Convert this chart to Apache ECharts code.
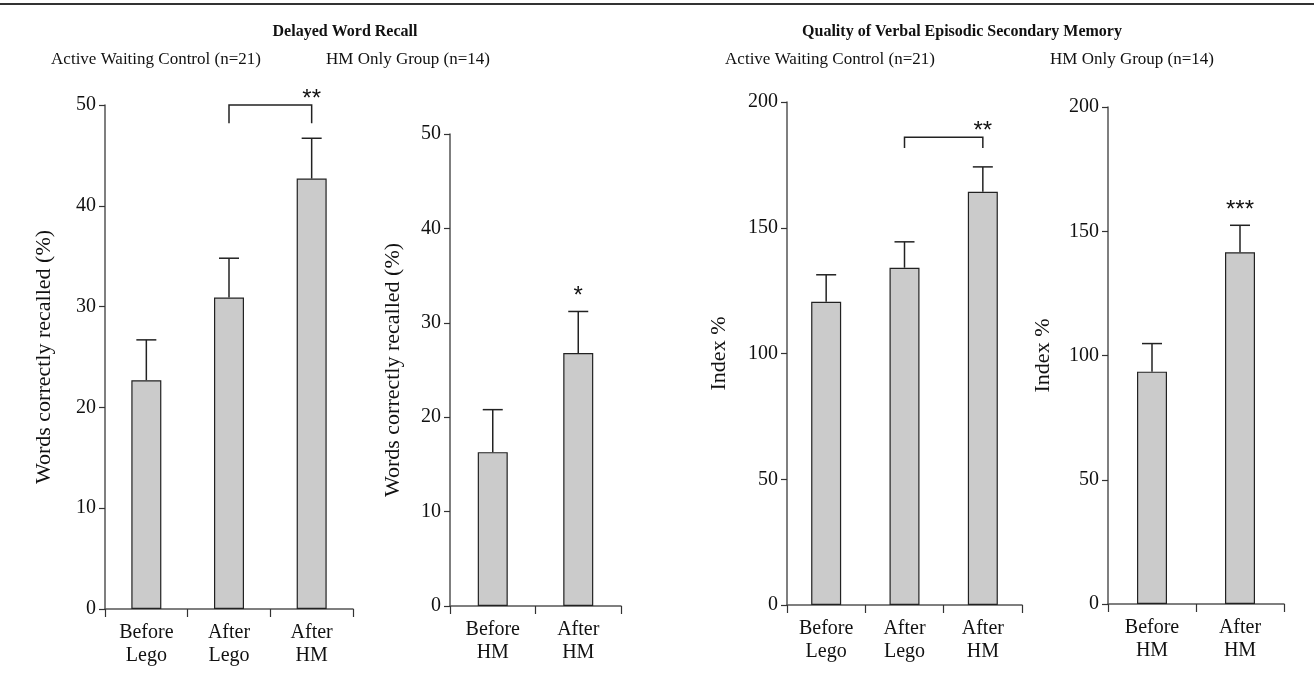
<!DOCTYPE html>
<html>
<head>
<meta charset="utf-8">
<title>Delayed Word Recall / Quality of Verbal Episodic Secondary Memory</title>
<script src="https://cdn.jsdelivr.net/npm/echarts@6/dist/echarts.min.js"></script>
<style>
  html, body { margin: 0; padding: 0; background: #fff; }
  #main { width: 1314px; height: 692px; }
</style>
</head>
<body>
<div id="main"></div>
<script>
// data
var catsThree = ['Before\nLego', 'After\nLego', 'After\nHM'];
var catsTwo = ['Before\nHM', 'After\nHM'];

var wordMeanCtrl = [22.7, 30.9, 42.7];
var wordUpperCtrl = [26.7, 34.8, 46.7];
var wordMeanHM = [16.3, 26.8];
var wordUpperHM = [20.8, 31.2];

var indexMeanCtrl = [120.6, 134.1, 164.3];
var indexUpperCtrl = [131.3, 144.4, 174.2];
var indexMeanHM = [93.5, 141.5];
var indexUpperHM = [104.8, 152.4];

var wordSigCtrl = ['', '', '**'];
var wordSigHM = ['', '*'];
var indexSigCtrl = ['', '', '**'];
var indexSigHM = ['', '***'];

// brackets: [from, to, top, drop]
var wordBracketCtrl = [1, 2, 50, 48.2];
var indexBracketCtrl = [1, 2, 186, 181.7];

var serif = '"Liberation Serif", "DejaVu Serif", serif';
var starFont = '24px "Liberation Sans", sans-serif';
var ink = '#111';

var panels = [
  { cats: catsThree, mean: wordMeanCtrl, upper: wordUpperCtrl, sig: wordSigCtrl, bracket: wordBracketCtrl,
    max: 50, interval: 10, name: 'Words correctly recalled (%)', gap: 50,
    grid: { left: 105, top: 105, width: 248, height: 504 } },
  { cats: catsTwo, mean: wordMeanHM, upper: wordUpperHM, sig: wordSigHM, bracket: null,
    max: 50, interval: 10, name: 'Words correctly recalled (%)', gap: 46,
    grid: { left: 450, top: 134, width: 171, height: 472 } },
  { cats: catsThree, mean: indexMeanCtrl, upper: indexUpperCtrl, sig: indexSigCtrl, bracket: indexBracketCtrl,
    max: 200, interval: 50, name: 'Index %', gap: 57,
    grid: { left: 787, top: 102, width: 235, height: 503 } },
  { cats: catsTwo, mean: indexMeanHM, upper: indexUpperHM, sig: indexSigHM, bracket: null,
    max: 200, interval: 50, name: 'Index %', gap: 54,
    grid: { left: 1108, top: 107, width: 176, height: 497 } }
];

var grids = [], xAxes = [], yAxes = [], series = [];

panels.forEach(function (p, i) {
  grids.push(p.grid);
  xAxes.push({
    type: 'category', gridIndex: i, data: p.cats,
    axisLine: { lineStyle: { color: '#555', width: 1.5 } },
    axisTick: { show: true, length: 8, lineStyle: { color: '#333', width: 1.2 } },
    axisLabel: { color: ink, fontFamily: serif, fontSize: 20, lineHeight: 23, margin: 12 }
  });
  yAxes.push({
    type: 'value', gridIndex: i, min: 0, max: p.max, interval: p.interval,
    splitLine: { show: false },
    axisLine: { show: true, lineStyle: { color: '#555', width: 1.5 } },
    axisTick: { show: true, length: 6, lineStyle: { color: '#333', width: 1.2 } },
    axisLabel: { color: ink, fontFamily: serif, fontSize: 20, margin: 9 },
    name: p.name, nameLocation: 'middle', nameRotate: 90, nameGap: p.gap,
    nameTextStyle: { color: ink, fontFamily: serif, fontSize: 22 }
  });

  series.push({
    type: 'bar', xAxisIndex: i, yAxisIndex: i, data: p.mean, barWidth: 30,
    itemStyle: { color: '#cbcbcb', borderColor: '#222', borderWidth: 1.2 },
    silent: true
  });

  // error bars + stars
  var errData = p.mean.map(function (m, k) { return [k, m, p.upper[k], p.sig[k]]; });
  series.push({
    type: 'custom', xAxisIndex: i, yAxisIndex: i, data: errData, silent: true, z: 5,
    renderItem: function (params, api) {
      var lo = api.coord([api.value(0), api.value(1)]);
      var hi = api.coord([api.value(0), api.value(2)]);
      var children = [
        { type: 'line', shape: { x1: lo[0], y1: lo[1], x2: hi[0], y2: hi[1] }, style: { stroke: '#222', lineWidth: 1.5 } },
        { type: 'line', shape: { x1: hi[0] - 10, y1: hi[1], x2: hi[0] + 10, y2: hi[1] }, style: { stroke: '#222', lineWidth: 1.5 } }
      ];
      var s = errData[params.dataIndex][3];
      if (s && !p.bracket) {
        children.push({ type: 'text', x: hi[0], y: hi[1] - 27,
          style: { text: s, fill: ink, font: starFont, align: 'center', verticalAlign: 'top' } });
      }
      return { type: 'group', children: children };
    }
  });

  if (p.bracket) {
    var b = p.bracket;
    var sigText = p.sig[b[1]];
    series.push({
      type: 'custom', xAxisIndex: i, yAxisIndex: i, data: [b], silent: true, z: 5,
      renderItem: function (params, api) {
        var a = api.coord([api.value(0), api.value(2)]);
        var c = api.coord([api.value(1), api.value(2)]);
        var d = api.coord([api.value(1), api.value(3)]);
        var dy = d[1];
        return { type: 'group', children: [
          { type: 'polyline', shape: { points: [[a[0], dy], [a[0], a[1]], [c[0], c[1]], [c[0], dy]] },
            style: { stroke: '#222', lineWidth: 1.5, fill: null } },
          { type: 'text', x: c[0], y: c[1] - 18,
            style: { text: sigText, fill: ink, font: starFont, align: 'center', verticalAlign: 'top' } }
        ] };
      }
    });
  }
});

var titleStyle = { color: ink, fontFamily: serif, fontSize: 16, fontWeight: 'bold' };
var subStyle = { color: ink, fontFamily: serif, fontSize: 17, fontWeight: 'normal' };

var option = {
  animation: false,
  backgroundColor: '#fff',
  title: [
    { text: 'Delayed Word Recall', left: 340, top: 19, textAlign: 'center', textStyle: titleStyle },
    { text: 'Quality of Verbal Episodic Secondary Memory', left: 957, top: 19, textAlign: 'center', textStyle: titleStyle },
    { text: 'Active Waiting Control (n=21)', left: 151, top: 46, textAlign: 'center', textStyle: subStyle },
    { text: 'HM Only Group (n=14)', left: 403, top: 46, textAlign: 'center', textStyle: subStyle },
    { text: 'Active Waiting Control (n=21)', left: 825, top: 46, textAlign: 'center', textStyle: subStyle },
    { text: 'HM Only Group (n=14)', left: 1127, top: 46, textAlign: 'center', textStyle: subStyle }
  ],
  graphic: [
    { type: 'line', shape: { x1: 0, y1: 4, x2: 1314, y2: 4 }, style: { stroke: '#333', lineWidth: 2 } }
  ],
  grid: grids,
  xAxis: xAxes,
  yAxis: yAxes,
  series: series
};

var chart = echarts.init(document.getElementById('main'));
chart.setOption(option);
</script>
</body>
</html>
